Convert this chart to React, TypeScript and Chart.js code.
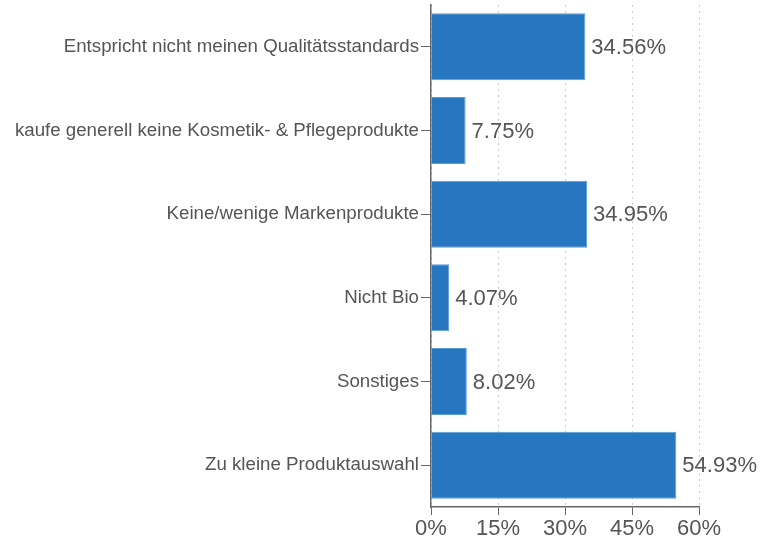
import React, { useEffect, useRef } from "react";
import { Chart, registerables } from "chart.js";

Chart.register(...registerables);

const categories = [
  "Entspricht nicht meinen Qualitätsstandards",
  "kaufe generell keine Kosmetik- & Pflegeprodukte",
  "Keine/wenige Markenprodukte",
  "Nicht Bio",
  "Sonstiges",
  "Zu kleine Produktauswahl",
];
const values = [34.56, 7.75, 34.95, 4.07, 8.02, 54.93];
const xTicks = [0, 15, 30, 45, 60];

const FONT = "'Liberation Sans', Arial, Helvetica, sans-serif";
const TEXT = "#555555";

const labelPlugin = {
  id: "barLabels",
  afterDatasetsDraw(chart: any) {
    const ctx = chart.ctx;
    const meta = chart.getDatasetMeta(0);
    ctx.save();
    ctx.font = `22px ${FONT}`;
    ctx.fillStyle = TEXT;
    ctx.textAlign = "left";
    ctx.textBaseline = "middle";
    meta.data.forEach((bar: any, i: number) => {
      ctx.fillText(values[i].toFixed(2) + "%", bar.x + 6, bar.y + 1);
    });
    ctx.restore();
  },
};

export default function App() {
  const ref = useRef<HTMLCanvasElement>(null);
  useEffect(() => {
    const chart = new Chart(ref.current!, {
      type: "bar",
      data: {
        labels: categories,
        datasets: [
          {
            data: values,
            backgroundColor: "#2677BF",
            borderColor: "#5B9BD5",
            borderWidth: 1,
            barPercentage: 0.8,
            categoryPercentage: 1,
          },
        ],
      },
      options: {
        indexAxis: "y",
        animation: false,
        responsive: true,
        maintainAspectRatio: false,
        layout: { padding: { top: 5, right: 64, left: 0, bottom: 0 } },
        plugins: { legend: { display: false }, tooltip: { enabled: false } },
        scales: {
          x: {
            min: 0,
            max: 60,
            afterBuildTicks: (axis: any) => {
              axis.ticks = xTicks.map((v) => ({ value: v }));
            },
            afterFit: (axis: any) => {
              axis.height = 32;
              axis.paddingLeft = 0;
              axis.paddingRight = 0;
            },
            grid: {
              color: "#cccccc",
              lineWidth: 1,
              drawTicks: true,
              tickLength: 8,
              tickColor: "#666666",
              tickBorderDash: [],
            },
            border: { display: true, color: "#666666", width: 1.5, dash: [2, 4] },
            ticks: {
              font: { family: FONT, size: 22 },
              color: TEXT,
              padding: 1,
              maxRotation: 0,
              callback: (v: any) => v + "%",
            },
          },
          y: {
            afterFit: (axis: any) => {
              axis.width = 431;
              axis.paddingTop = 0;
              axis.paddingBottom = 0;
            },
            grid: {
              offset: false,
              drawOnChartArea: false,
              drawTicks: true,
              tickLength: 10,
              tickColor: "#666666",
            },
            border: { display: true, color: "#666666", width: 1.5 },
            ticks: {
              font: { family: FONT, size: 18.7 },
              color: TEXT,
              padding: 2,
            },
          },
        },
      },
      plugins: [labelPlugin],
    });
    return () => chart.destroy();
  }, []);
  return (
    <div style={{ position: "fixed", left: 0, top: 0, width: 763, height: 539, background: "#fff" }}>
      <canvas ref={ref} />
    </div>
  );
}
